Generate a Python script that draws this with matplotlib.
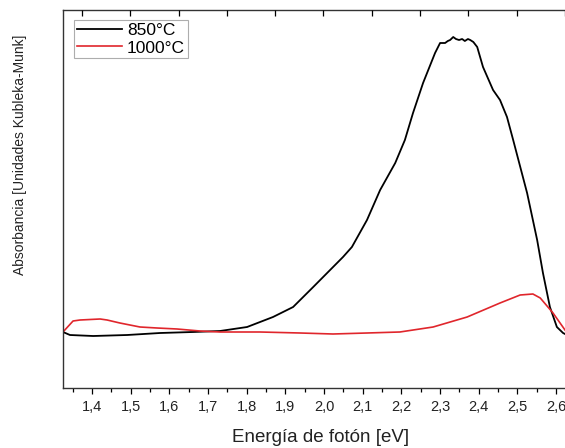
import matplotlib
matplotlib.use("Agg")
import matplotlib.pyplot as plt
from matplotlib.ticker import MultipleLocator, FixedLocator

plt.rcParams['font.family'] = ['Liberation Sans', 'DejaVu Sans']

# 850 °C sample (photon energy eV, Kubelka-Munk absorbance a.u.)
e850 = [1.325, 1.343, 1.403, 1.491, 1.576, 1.661, 1.731, 1.801, 1.868, 1.920,
        1.972, 2.049, 2.072, 2.111, 2.145, 2.184, 2.209, 2.230, 2.256, 2.287,
        2.300, 2.313, 2.320, 2.326, 2.334, 2.341, 2.349, 2.357, 2.364, 2.372,
        2.378, 2.386, 2.396, 2.411, 2.437, 2.455, 2.473, 2.489, 2.525, 2.551,
        2.566, 2.584, 2.602, 2.618, 2.623]
a850 = [5.6, 5.3, 5.2, 5.3, 5.5, 5.6, 5.7, 6.1, 7.1, 8.1,
        10.1, 13.1, 14.1, 16.8, 19.8, 22.5, 24.8, 27.5, 30.5, 33.5,
        34.5, 34.5, 34.7, 34.8, 35.1, 34.9, 34.8, 34.9, 34.7, 34.9,
        34.8, 34.6, 34.1, 32.1, 29.8, 28.8, 27.1, 24.8, 19.5, 14.8,
        11.5, 8.1, 6.1, 5.5, 5.4]

# 1000 °C sample
e1000 = [1.325, 1.351, 1.369, 1.421, 1.439, 1.472, 1.524, 1.568, 1.620, 1.679,
         1.731, 1.834, 1.938, 2.023, 2.111, 2.196, 2.282, 2.370, 2.455, 2.507,
         2.540, 2.559, 2.592, 2.623]
a1000 = [5.6, 6.7, 6.8, 6.9, 6.8, 6.5, 6.1, 6.0, 5.9, 5.7,
         5.6, 5.6, 5.5, 5.4, 5.5, 5.6, 6.1, 7.1, 8.5, 9.3,
         9.4, 9.0, 7.5, 5.8]

xticks = [1.4, 1.5, 1.6, 1.7, 1.8, 1.9, 2.0, 2.1, 2.2, 2.3, 2.4, 2.5, 2.6]
xticklabels = ['1,4', '1,5', '1,6', '1,7', '1,8', '1,9', '2,0', '2,1', '2,2',
               '2,3', '2,4', '2,5', '2,6']

W, H = 565, 448
fig = plt.figure(figsize=(W / 100, H / 100), dpi=100)
left, right, top, bottom = 63, 565, 10, 388
aw, ah = right - left, bottom - top
ax = fig.add_axes([left / W, 1 - bottom / H, aw / W, ah / H])

ax.plot(e850, a850, color='black', lw=1.3, label='850°C')
ax.plot(e1000, a1000, color='#e0262c', lw=1.2, label='1000°C')

ax.set_xlim(1.325, 2.623)
ax.set_ylim(0, 37.8)

ax.xaxis.set_major_locator(FixedLocator(xticks))
ax.set_xticklabels(xticklabels, fontsize=10.5, color='#222222')
ax.xaxis.set_minor_locator(MultipleLocator(0.05))
ax.tick_params(axis='x', which='major', direction='out', length=4.5, width=0.9, pad=4)
ax.tick_params(axis='x', which='minor', direction='out', length=2.8, width=0.9)
ax.set_yticks([])

ax.spines['right'].set_visible(False)
for s in ['left', 'bottom', 'top']:
    ax.spines[s].set_linewidth(1.0)
    ax.spines[s].set_color('#333333')

# top axis ticks (independent spacing, pointing inward)
axt = ax.twiny()
axt.set_xlim(-0.393, 10.0)
axt.xaxis.set_major_locator(MultipleLocator(1))
axt.tick_params(axis='x', which='major', direction='in', length=4, width=0.9,
                labeltop=False)
for s in axt.spines.values():
    s.set_visible(False)

ax.set_xlabel('Energía de fotón [eV]', fontsize=13.5, color='#222222')
ax.xaxis.label.set_va('center')
ax.xaxis.set_label_coords((321 - left) / aw, -(437 - bottom) / ah)
ax.set_ylabel('Absorbancia [Unidades Kubleka-Munk]', fontsize=10, color='#222222')
ax.yaxis.label.set_va('center')
ax.yaxis.set_label_coords(-(left - 20) / aw, (bottom - 155) / ah)

leg = ax.legend(loc='upper left', bbox_to_anchor=((74 - left) / aw, 1 - (20 - top) / ah),
                fontsize=12.5, frameon=True, fancybox=False, borderpad=0.15,
                handlelength=2.6, handletextpad=0.3, labelspacing=0.15, borderaxespad=0)
leg.get_frame().set_edgecolor('#999999')
leg.get_frame().set_linewidth(0.8)

fig.savefig('out.png', dpi=100)
